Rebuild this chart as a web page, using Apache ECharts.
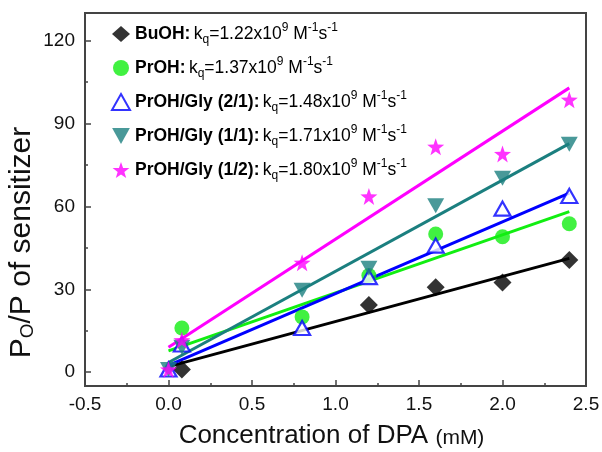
<!DOCTYPE html>
<html><head><meta charset="utf-8">
<script src="https://cdn.jsdelivr.net/npm/echarts@6/dist/echarts.min.js"></script>
<style>html,body{margin:0;padding:0;background:#fff}#c{width:602px;height:452px}</style>
</head><body><div id="c"></div>
<script>
// ---- data ----
const seriesNames = ['BuOH', 'PrOH', 'PrOH/Gly (2/1)', 'PrOH/Gly (1/1)', 'PrOH/Gly (1/2)'];
const kqValues = ['1.22', '1.37', '1.48', '1.71', '1.80'];
const xBuOH = [0.08, 1.2, 1.6, 2.0, 2.4];
const yBuOH = [1.0, 24.3, 30.7, 32.5, 40.6];
const xPrOH = [0.08, 0.8, 1.2, 1.6, 2.0, 2.4];
const yPrOH = [16.0, 20.0, 35.0, 50.0, 49.0, 53.7];
const xGly21 = [0, 0.08, 0.8, 1.2, 1.6, 2.0, 2.4];
const yGly21 = [1.0, 10.0, 16.0, 34.4, 45.8, 59.2, 63.8];
const xGly11 = [0, 0.08, 0.8, 1.2, 1.6, 2.0, 2.4];
const yGly11 = [1.0, 9.0, 29.7, 37.6, 60.2, 70.2, 82.5];
const xGly12 = [0, 0.08, 0.8, 1.2, 1.6, 2.0, 2.4];
const yGly12 = [1.0, 11.6, 39.6, 63.6, 81.6, 79.0, 98.6];
// linear fit lines: value at x = 0 and x = 2.4
const fitX = [0, 2.4];
const fitBuOH = [2.0, 41.2];
const fitPrOH = [7.7, 58.1];
const fitGly21 = [2.5, 64.8];
const fitGly11 = [3.5, 82.7];
const fitGly12 = [9.0, 102.9];
const yLabelTicks = [0, 30, 60, 90, 120];
const yMinorTicks = [15, 45, 75, 105];

const zip = (xs, ys) => xs.map((x, i) => [x, ys[i]]);
const FONT = '"Liberation Sans", Arial, sans-serif';
const STAR = 'path://M0,-10 L2.35,-3.24 9.51,-3.09 3.8,1.24 5.88,8.09 0,4 -5.88,8.09 -3.8,1.24 -9.51,-3.09 -2.35,-3.24 Z';
const DOWN = 'path://M0,0 L10,0 L5,9 Z';

const styles = [
  {color: '#000000', symbol: 'diamond', size: 18, item: {color: '#000000'}},
  {color: '#11ee11', symbol: 'circle', size: 15, item: {color: '#11ee11'}},
  {color: '#0000ff', symbol: 'triangle', size: [16, 14], item: {color: '#ffffff', borderColor: '#0000ff', borderWidth: 2.2}},
  {color: '#1b7f7f', symbol: DOWN, size: [17, 15], item: {color: '#1b7f7f'}},
  {color: '#ff00ff', symbol: STAR, size: 17, item: {color: '#ff00ff'}}
];
const pts = [zip(xBuOH, yBuOH), zip(xPrOH, yPrOH), zip(xGly21, yGly21), zip(xGly11, yGly11), zip(xGly12, yGly12)];
const fits = [fitBuOH, fitPrOH, fitGly21, fitGly11, fitGly12];

const series = [];
fits.forEach((f, i) => {
  series.push({
    name: 'fit ' + seriesNames[i], type: 'line', data: zip(fitX, f),
    showSymbol: false, symbol: 'none', silent: true,
    lineStyle: {color: styles[i].color, width: 3}, z: 2
  });
});
pts.forEach((p, i) => {
  const s = styles[i];
  series.push({
    name: seriesNames[i], type: 'scatter', data: p,
    symbol: s.symbol, symbolSize: s.size,
    itemStyle: s.item, z: 3 + i
  });
});

const legendText = {};
seriesNames.forEach((n, i) => {
  legendText[n] = '{b|' + n + ':} {n|k}{sub|q}{n|=' + kqValues[i] + 'x10}{sup|9}{n| M}{sup|-1}{n|s}{sup|-1}';
});

const chart = echarts.init(document.getElementById('c'), null, {renderer: 'canvas'});
chart.setOption({
  backgroundColor: '#ffffff',
  animation: false,
  textStyle: {fontFamily: FONT},
  grid: {left: 85, right: 16, top: 13, bottom: 66, containLabel: false, outerBoundsMode: 'none',
    show: true, borderColor: '#444', borderWidth: 2, backgroundColor: 'transparent'},
  legend: {
    data: seriesNames, orient: 'vertical', left: 106, top: 17,
    itemWidth: 18, itemHeight: 16, itemGap: 10,
    formatter: n => legendText[n],
    textStyle: {
      fontFamily: FONT, color: '#000',
      rich: {
        b: {fontSize: 17.5, fontWeight: 'bold', fontFamily: FONT, color: '#000', lineHeight: 24},
        n: {fontSize: 17.5, fontFamily: FONT, color: '#000', lineHeight: 24},
        sub: {fontSize: 12, fontFamily: FONT, color: '#000', verticalAlign: 'bottom', lineHeight: 12},
        sup: {fontSize: 12, fontFamily: FONT, color: '#000', verticalAlign: 'top', lineHeight: 12}
      }
    }
  },
  xAxis: {
    type: 'value', min: -0.5, max: 2.5, interval: 0.5,
    axisLine: {show: true, onZero: false, lineStyle: {color: '#444', width: 2}},
    axisTick: {show: true, inside: true, length: 6, lineStyle: {color: '#444', width: 1.5}},
    minorTick: {show: true, splitNumber: 2, length: 3, lineStyle: {color: '#444', width: 1.5}},
    splitLine: {show: false},
    axisLabel: {fontSize: 19, color: '#111', margin: 9, formatter: v => v.toFixed(1)},
    name: 'Concentration of DPA {s|(mM)}', nameLocation: 'middle', nameGap: 37,
    nameTextStyle: {fontSize: 26, color: '#111', fontFamily: FONT, padding: [0, 8, 0, 0],
      rich: {s: {fontSize: 21, color: '#111', fontFamily: FONT, verticalAlign: 'bottom'}}}
  },
  yAxis: [{
    type: 'value', min: -5, max: 130,
    axisLine: {show: true, onZero: false, lineStyle: {color: '#444', width: 2}},
    axisTick: {show: true, inside: true, length: 6, customValues: yLabelTicks, lineStyle: {color: '#444', width: 1.5}},
    splitLine: {show: false},
    axisLabel: {fontSize: 19, color: '#111', margin: 10, customValues: yLabelTicks},
    name: 'P{sub|O}/P of sensitizer', nameLocation: 'middle', nameGap: 48, nameRotate: 90,
    nameMoveOverlap: false,
    nameTextStyle: {fontSize: 30, color: '#111', fontFamily: FONT, padding: [0, 86, 0, 0],
      rich: {sub: {fontSize: 19, color: '#111', fontFamily: FONT, verticalAlign: 'bottom'}}}
  }, {
    type: 'value', min: -5, max: 130, position: 'left', offset: 0,
    axisLine: {show: false, onZero: false},
    axisTick: {show: true, inside: true, length: 3, customValues: yMinorTicks, lineStyle: {color: '#444', width: 1.5}},
    axisLabel: {show: false}, splitLine: {show: false}
  }],
  series: series
});
</script></body></html>
